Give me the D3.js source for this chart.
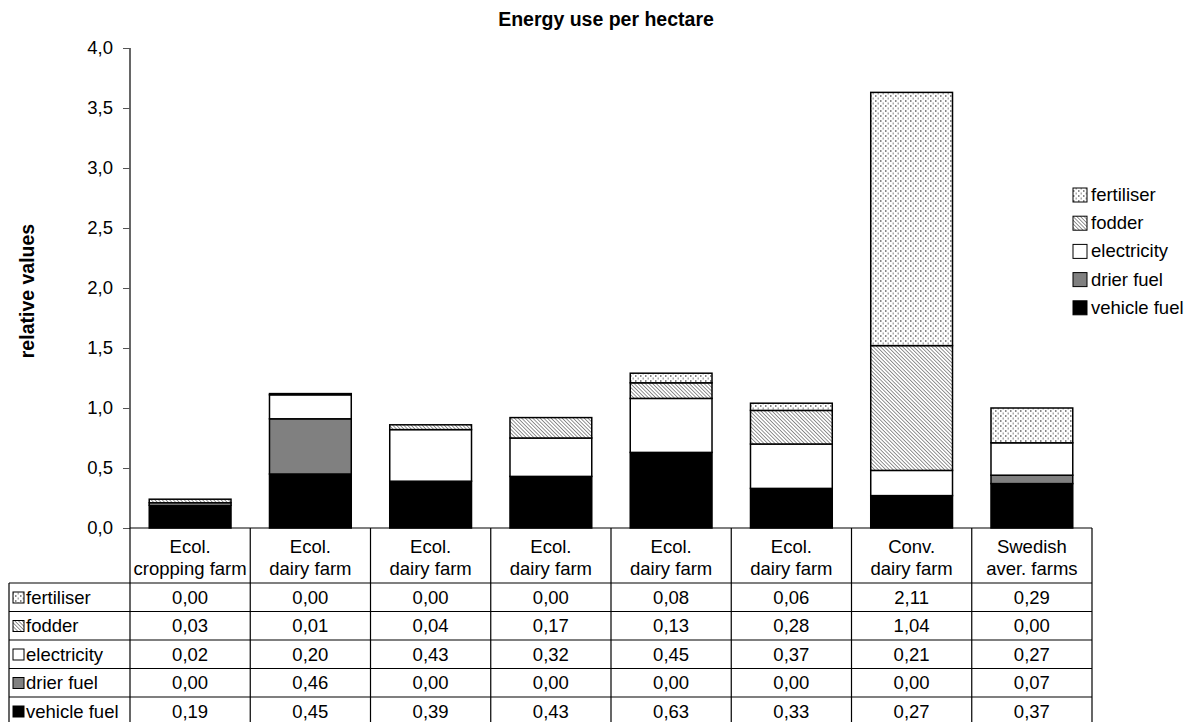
<!DOCTYPE html>
<html>
<head>
<meta charset="utf-8">
<script src="https://cdn.jsdelivr.net/npm/d3@7"></script>
<style>
  body { margin: 0; background: #fff; }
  text { font-family: "Liberation Sans", Arial, sans-serif; fill: #000; }
</style>
</head>
<body>
<div id="chart"></div>
<script>
// chart data
var categories = [
  ["Ecol.", "cropping farm"],
  ["Ecol.", "dairy farm"],
  ["Ecol.", "dairy farm"],
  ["Ecol.", "dairy farm"],
  ["Ecol.", "dairy farm"],
  ["Ecol.", "dairy farm"],
  ["Conv.", "dairy farm"],
  ["Swedish", "aver. farms"]
];
var vehicleFuel = [0.19, 0.45, 0.39, 0.43, 0.63, 0.33, 0.27, 0.37];
var drierFuel   = [0.00, 0.46, 0.00, 0.00, 0.00, 0.00, 0.00, 0.07];
var electricity = [0.02, 0.20, 0.43, 0.32, 0.45, 0.37, 0.21, 0.27];
var fodder      = [0.03, 0.01, 0.04, 0.17, 0.13, 0.28, 1.04, 0.00];
var fertiliser  = [0.00, 0.00, 0.00, 0.00, 0.08, 0.06, 2.11, 0.29];
var seriesNames = ["vehicle fuel", "drier fuel", "electricity", "fodder", "fertiliser"];
var yTicks = [0, 0.5, 1, 1.5, 2, 2.5, 3, 3.5, 4];

var W = 1195, H = 722;
var plotLeft = 130, plotRight = 1092, plotTop = 48, plotBottom = 528;
var rowH = 28.5, headerH = 55;
var fs = "18.5px";

var svg = d3.select("#chart").append("svg")
  .attr("width", W).attr("height", H);

// patterns
var defs = svg.append("defs");
var pFert = defs.append("pattern").attr("id", "fert")
  .attr("width", 5).attr("height", 5).attr("patternUnits", "userSpaceOnUse");
pFert.append("rect").attr("width", 5).attr("height", 5).attr("fill", "#fff");
pFert.append("rect").attr("x", 0).attr("y", 0).attr("width", 1.5).attr("height", 2).attr("fill", "#888");
pFert.append("rect").attr("x", 2.5).attr("y", 2.5).attr("width", 1.5).attr("height", 2).attr("fill", "#aaa");

var pFod = defs.append("pattern").attr("id", "fod")
  .attr("width", 2.6).attr("height", 2.6).attr("patternUnits", "userSpaceOnUse")
  .attr("patternTransform", "rotate(-45)");
pFod.append("rect").attr("width", 2.6).attr("height", 2.6).attr("fill", "#fff");
pFod.append("line").attr("x1", 0).attr("y1", 0).attr("x2", 0).attr("y2", 2.6)
  .attr("stroke", "#666").attr("stroke-width", 1.4);

var fills = {
  "vehicle fuel": "#000",
  "drier fuel": "#808080",
  "electricity": "#fff",
  "fodder": "url(#fod)",
  "fertiliser": "url(#fert)"
};

var data = categories.map(function(c, i) {
  return {
    idx: i,
    "vehicle fuel": vehicleFuel[i],
    "drier fuel": drierFuel[i],
    "electricity": electricity[i],
    "fodder": fodder[i],
    "fertiliser": fertiliser[i]
  };
});

var x = d3.scaleBand()
  .domain(d3.range(categories.length))
  .range([plotLeft, plotRight])
  .padding(0);

var y = d3.scaleLinear()
  .domain([0, 4])
  .range([plotBottom, plotTop]);

var fmt1 = function(v) { return d3.format(".1f")(v).replace(".", ","); };
var fmt2 = function(v) { return d3.format(".2f")(v).replace(".", ","); };

// title
svg.append("text")
  .attr("x", 606).attr("y", 26)
  .attr("text-anchor", "middle")
  .style("font-size", "19.5px").style("font-weight", "bold")
  .text("Energy use per hectare");

// y label
svg.append("text")
  .attr("transform", "translate(34,291) rotate(-90)")
  .attr("text-anchor", "middle")
  .style("font-size", "19.5px").style("font-weight", "bold")
  .text("relative values");

// bars
var stack = d3.stack().keys(seriesNames)(data);
var bw = x.bandwidth() * 0.68;
var off = (x.bandwidth() - bw) / 2;

svg.append("g").selectAll("g")
  .data(stack)
  .enter().append("g")
  .attr("fill", function(d) { return fills[d.key]; })
  .selectAll("rect")
  .data(function(d) { return d; })
  .enter().append("rect")
  .attr("x", function(d) { return x(d.data.idx) + off; })
  .attr("y", function(d) { return y(d[1]); })
  .attr("width", bw)
  .attr("height", function(d) { return y(d[0]) - y(d[1]); })
  .attr("stroke", "#000")
  .attr("stroke-width", 1.5);

// y axis
var yAxis = svg.append("g")
  .attr("transform", "translate(" + plotLeft + ",0)")
  .call(d3.axisLeft(y).tickValues(yTicks).tickFormat(fmt1).tickSize(7).tickPadding(10));
yAxis.select(".domain").attr("stroke", "#000").attr("stroke-width", 1.2)
  .attr("d", "M0," + plotTop + "V" + plotBottom);
yAxis.selectAll(".tick line").attr("stroke", "#555");
yAxis.selectAll(".tick text").style("font-size", fs)
  .style("font-family", "Liberation Sans, Arial, sans-serif");

// data table
var table = svg.append("g");
var rowOrder = seriesNames.slice().reverse();
var tableBottom = plotBottom + headerH + rowH * rowOrder.length;

table.append("line").attr("x1", plotLeft).attr("x2", plotRight)
  .attr("y1", plotBottom).attr("y2", plotBottom).attr("stroke", "#000").attr("stroke-width", 1.2);
rowOrder.forEach(function(s, r) {
  var yy = plotBottom + headerH + r * rowH;
  table.append("line").attr("x1", 9).attr("x2", plotRight)
    .attr("y1", yy).attr("y2", yy).attr("stroke", "#000").attr("stroke-width", 1.2);
});
x.domain().forEach(function(i) {
  table.append("line").attr("x1", x(i)).attr("x2", x(i))
    .attr("y1", plotBottom).attr("y2", tableBottom).attr("stroke", "#000").attr("stroke-width", 1.2);
});
table.append("line").attr("x1", plotRight).attr("x2", plotRight)
  .attr("y1", plotBottom).attr("y2", tableBottom).attr("stroke", "#000").attr("stroke-width", 1.2);
table.append("line").attr("x1", 9).attr("x2", 9)
  .attr("y1", plotBottom + headerH).attr("y2", tableBottom).attr("stroke", "#000").attr("stroke-width", 1.2);

// column headers
categories.forEach(function(c, i) {
  var cx = x(i) + x.bandwidth() / 2;
  table.append("text").attr("x", cx).attr("y", plotBottom + 25)
    .attr("text-anchor", "middle").style("font-size", fs).text(c[0]);
  table.append("text").attr("x", cx).attr("y", plotBottom + 47)
    .attr("text-anchor", "middle").style("font-size", fs).text(c[1]);
});

// rows
rowOrder.forEach(function(s, r) {
  var yy = plotBottom + headerH + r * rowH;
  table.append("rect").attr("x", 13).attr("y", yy + 9)
    .attr("width", 11).attr("height", 11)
    .attr("fill", fills[s]).attr("stroke", "#000").attr("stroke-width", 1);
  table.append("text").attr("x", 26).attr("y", yy + 20.5)
    .style("font-size", fs).text(s);
  data.forEach(function(d, i) {
    table.append("text").attr("x", x(i) + x.bandwidth() / 2).attr("y", yy + 20.5)
      .attr("text-anchor", "middle").style("font-size", fs).text(fmt2(d[s]));
  });
});

// legend
var legend = svg.append("g").attr("transform", "translate(1073,195)");
rowOrder.forEach(function(s, i) {
  legend.append("rect").attr("x", 0).attr("y", i * 28.2 - 7)
    .attr("width", 14).attr("height", 14)
    .attr("fill", fills[s]).attr("stroke", "#000").attr("stroke-width", 1);
  legend.append("text").attr("x", 18).attr("y", i * 28.2 + 6)
    .style("font-size", fs).text(s);
});
</script>
</body>
</html>
